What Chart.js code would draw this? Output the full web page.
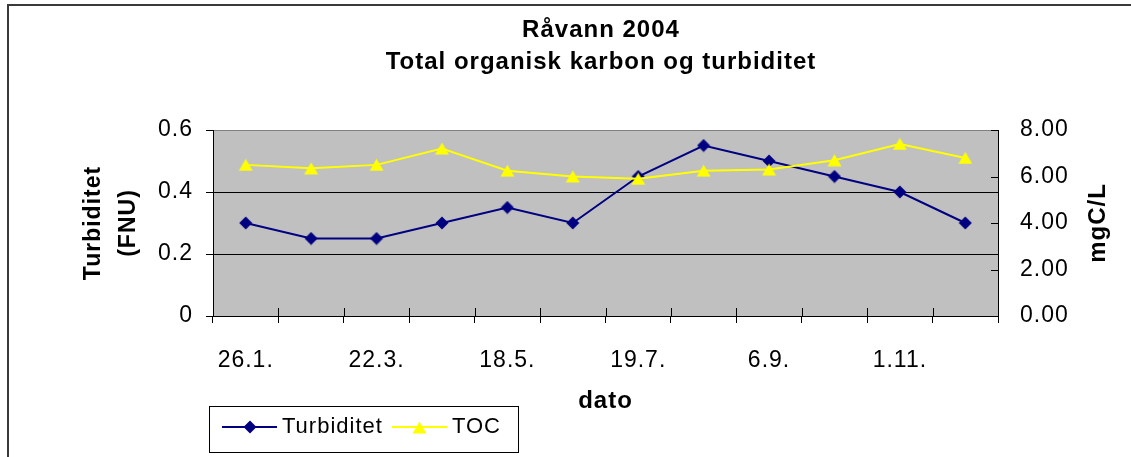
<!DOCTYPE html>
<html>
<head>
<meta charset="utf-8">
<script src="https://cdn.jsdelivr.net/npm/chart.js@4.4.1/dist/chart.umd.min.js"></script>
<style>
  html, body { margin: 0; padding: 0; background: #fff; overflow: hidden; }
  canvas { display: block; }
</style>
</head>
<body>
<canvas id="c" width="1131" height="457"></canvas>
<script>
// Chart text
const titleLines = ['Råvann 2004', 'Total organisk karbon og turbiditet'];
const xTitle = 'dato';
const leftTitle = ['Turbiditet', '(FNU)'];
const rightTitle = 'mgC/L';

// Sampling dates (only every second date is labelled on the axis)
const dates = ['26.1.', '', '22.3.', '', '18.5.', '', '19.7.', '', '6.9.', '', '1.11.', ''];

// Measured series
const turbiditet = [0.30, 0.25, 0.25, 0.30, 0.35, 0.30, 0.45, 0.55, 0.50, 0.45, 0.40, 0.30]; // FNU
const toc = [6.5, 6.35, 6.5, 7.2, 6.25, 6.0, 5.9, 6.25, 6.3, 6.7, 7.4, 6.8];                   // mgC/L

// Axis ticks
const leftTicks = [0, 0.2, 0.4, 0.6];
const rightTicks = [0, 2, 4, 6, 8];

const FONT = '"Liberation Sans", Arial, Helvetica, sans-serif';
const SPACING = '1px';
const NAVY = '#000080';
const YELLOW = '#FFFF00';

Chart.defaults.font.family = FONT;
Chart.defaults.color = '#000';

// Marker images
function diamondMarker(color) {
  const c = document.createElement('canvas');
  c.width = 14; c.height = 14;
  const g = c.getContext('2d');
  g.fillStyle = color;
  g.beginPath();
  g.moveTo(7, 0.5); g.lineTo(13.5, 7); g.lineTo(7, 13.5); g.lineTo(0.5, 7);
  g.closePath(); g.fill();
  return c;
}
function triangleMarker(color) {
  const c = document.createElement('canvas');
  c.width = 15; c.height = 13;
  const g = c.getContext('2d');
  g.fillStyle = color;
  g.beginPath();
  g.moveTo(7.5, 0.5); g.lineTo(14.5, 12.5); g.lineTo(0.5, 12.5);
  g.closePath(); g.fill();
  return c;
}
function legendSample(color, marker) {
  const c = document.createElement('canvas');
  c.width = 55; c.height = 14;
  const g = c.getContext('2d');
  g.strokeStyle = color; g.lineWidth = 2;
  g.beginPath(); g.moveTo(0, 7); g.lineTo(55, 7); g.stroke();
  g.drawImage(marker, Math.round(27.5 - marker.width / 2), Math.round(7 - marker.height / 2));
  return c;
}
const diamond = diamondMarker(NAVY);
const triangle = triangleMarker(YELLOW);
const samples = [legendSample(NAVY, diamond), legendSample(YELLOW, triangle)];

// Plot background, frame, inner tick marks, right axis title and legend box
const decor = {
  id: 'decor',
  beforeUpdate(chart) { chart.ctx.letterSpacing = SPACING; },
  beforeDraw(chart) {
    const { ctx, chartArea: a } = chart;
    ctx.letterSpacing = SPACING;
    ctx.save();
    ctx.fillStyle = '#C0C0C0';
    ctx.fillRect(a.left, a.top, a.right - a.left, a.bottom - a.top);
    ctx.fillStyle = '#3a3a3a';
    ctx.fillRect(7, 4, chart.width - 7, 2);
    ctx.fillRect(7, 4, 2, chart.height - 4);
    ctx.restore();
  },
  afterDraw(chart) {
    const { ctx, chartArea: a, scales } = chart;
    ctx.save();
    ctx.strokeStyle = '#000';
    ctx.lineWidth = 1;
    ctx.beginPath();
    for (let i = 0; i <= dates.length; i++) {
      const x = Math.round(scales.x.getPixelForValue(i - 0.5)) + 0.5;
      ctx.moveTo(x, a.bottom - 8); ctx.lineTo(x, a.bottom);
    }
    rightTicks.forEach(v => {
      const y = Math.round(scales.y2.getPixelForValue(v)) + 0.5;
      ctx.moveTo(a.right - 7, y); ctx.lineTo(a.right, y);
    });
    ctx.stroke();

    // right axis title, reading upwards
    ctx.translate(1098, (a.top + a.bottom) / 2);
    ctx.rotate(-Math.PI / 2);
    ctx.font = 'bold 24px ' + FONT;
    ctx.fillStyle = '#000';
    ctx.textAlign = 'center';
    ctx.textBaseline = 'middle';
    ctx.fillText(rightTitle, 0, 0);
    ctx.restore();

    // legend frame
    const hb = chart.legend.legendHitBoxes;
    if (hb && hb.length) {
      const last = hb[hb.length - 1];
      const l = hb[0].left - 19;
      const r = last.left + last.width + 17;
      const t = hb[0].top - 10;
      const b = hb[0].top + hb[0].height + 14;
      ctx.save();
      ctx.strokeStyle = '#000';
      ctx.lineWidth = 1;
      ctx.strokeRect(Math.round(l) + 0.5, Math.round(t) + 0.5, Math.round(r - l), Math.round(b - t));
      ctx.restore();
    }
  }
};

new Chart(document.getElementById('c'), {
  type: 'line',
  data: {
    labels: dates,
    datasets: [
      {
        label: 'Turbiditet', data: turbiditet, yAxisID: 'y',
        borderColor: NAVY, backgroundColor: NAVY, borderWidth: 2,
        pointStyle: diamond, pointRadius: 6, order: 1, tension: 0
      },
      {
        label: 'TOC', data: toc, yAxisID: 'y2',
        borderColor: YELLOW, backgroundColor: YELLOW, borderWidth: 2,
        pointStyle: triangle, pointRadius: 6, order: 0, tension: 0
      }
    ]
  },
  options: {
    responsive: false,
    animation: false,
    events: [],
    layout: { padding: { left: 71, right: 0, top: 0, bottom: 9 } },
    plugins: {
      tooltip: { enabled: false },
      title: {
        display: true, text: titleLines, color: '#000',
        font: { size: 24, weight: 'bold', lineHeight: 32 / 24 },
        padding: { top: 14, bottom: 52 }
      },
      legend: {
        position: 'bottom', align: 'start', fullSize: false,
        labels: {
          usePointStyle: true, pointStyleWidth: 43, padding: 15,
          color: '#000', font: { size: 22 },
          sort: (p, q) => p.datasetIndex - q.datasetIndex,
          generateLabels(chart) {
            const items = Chart.defaults.plugins.legend.labels.generateLabels(chart);
            items.forEach(it => { it.pointStyle = samples[it.datasetIndex]; });
            return items;
          }
        }
      }
    },
    scales: {
      x: {
        offset: true,
        grid: { offset: true, drawOnChartArea: false, color: '#000', tickLength: 7 },
        border: { color: '#000' },
        ticks: { autoSkip: false, maxRotation: 0, padding: 24, font: { size: 23 } },
        title: {
          display: true, text: xTitle,
          font: { size: 24, weight: 'bold' },
          padding: { top: 0, bottom: -15 }
        },
        afterFit(s) { s.height = 85; }
      },
      y: {
        position: 'left', min: 0, max: 0.6,
        afterBuildTicks(s) { s.ticks = leftTicks.map(v => ({ value: v })); },
        ticks: { padding: 13, font: { size: 23 }, callback: v => (v === 0 ? '0' : v.toFixed(1)) },
        grid: {
          color: c => (c.tick && c.tick.value === 0.6 ? '#808080' : '#000'),
          tickColor: '#000', tickLength: 7
        },
        border: { color: '#000' },
        title: {
          display: true, text: leftTitle,
          font: { size: 23, weight: 'bold', lineHeight: 35 / 23 },
          padding: { top: 5, bottom: 0 }
        },
        afterFit(s) { s.width = 142; }
      },
      y2: {
        position: 'right', min: 0, max: 8,
        afterBuildTicks(s) { s.ticks = rightTicks.map(v => ({ value: v })); },
        ticks: { padding: 22, font: { size: 23 }, callback: v => v.toFixed(2) },
        grid: { drawOnChartArea: false, drawTicks: false },
        border: { color: '#000' },
        afterFit(s) { s.width = 133; }
      }
    }
  },
  plugins: [decor]
});
</script>
</body>
</html>
